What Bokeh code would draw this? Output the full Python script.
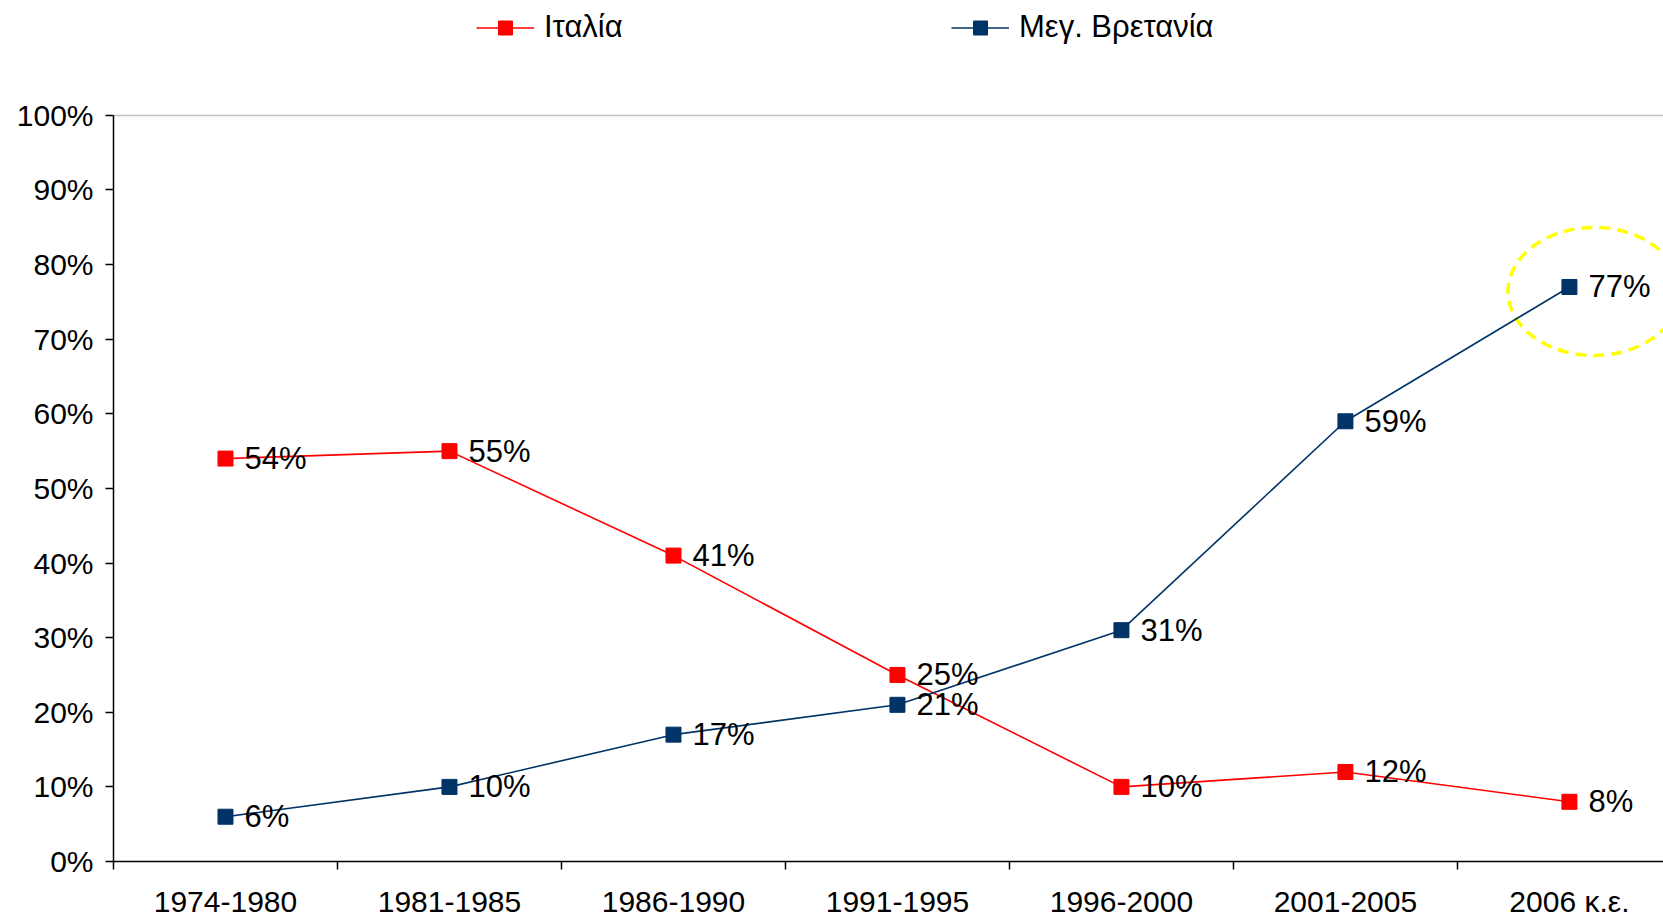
from bokeh.plotting import figure
from bokeh.models import Range1d, FixedTicker, PrintfTickFormatter, Legend, LegendItem, ColumnDataSource
from bokeh.embed import file_html
from bokeh.resources import INLINE

categories = ["1974-1980", "1981-1985", "1986-1990", "1991-1995", "1996-2000", "2001-2005", "2006 κ.ε."]
italy = [54, 55, 41, 25, 10, 12, 8]
uk = [6, 10, 17, 21, 31, 59, 77]
series_names = ["Ιταλία", "Μεγ. Βρετανία"]
y_ticks = [0, 10, 20, 30, 40, 50, 60, 70, 80, 90, 100]

FONT = "Liberation Sans"
RED = "#FF0000"
BLUE = "#003366"

xs = [i + 0.5 for i in range(len(categories))]

# frame spans the full height above the x axis; the axis line is bounded to 0..100
FRAME_H = 862
AXIS_H = 747
y_top = 100 * FRAME_H / AXIS_H

p = figure(width=1663, height=920, output_backend="svg", toolbar_location=None,
           x_range=Range1d(0, 6.92), y_range=Range1d(0, y_top),
           min_border_left=113, min_border_right=0, min_border_top=0, min_border_bottom=58)
p.outline_line_color = None
p.background_fill_color = "white"

src_it = ColumnDataSource(dict(x=xs, y=italy, t=[f"{v}%" for v in italy]))
src_uk = ColumnDataSource(dict(x=xs, y=uk, t=[f"{v}%" for v in uk]))

# highlight ellipse around last UK point
ell_src = ColumnDataSource(dict(x=[xs[-1] + 0.11], y=[uk[-1] - 0.6]))
p.ellipse(x="x", y="y", width=172, height=128, width_units="screen", height_units="screen",
          source=ell_src, fill_color=None, line_color="#FFFF00", line_width=3.5, line_dash="11 7")

l_it = p.line("x", "y", source=src_it, line_color=RED, line_width=1.6)
m_it = p.scatter("x", "y", source=src_it, marker="square", size=15, fill_color=RED, line_color=RED)
l_uk = p.line("x", "y", source=src_uk, line_color=BLUE, line_width=1.6)
m_uk = p.scatter("x", "y", source=src_uk, marker="square", size=15, fill_color=BLUE, line_color=BLUE)

for s in (src_it, src_uk):
    p.text("x", "y", text="t", source=s, x_offset=19, text_align="left", text_baseline="middle",
           text_font_size="31px", text_color="black", text_font={"value": FONT})

# axes
p.xaxis.ticker = FixedTicker(ticks=xs, minor_ticks=list(range(len(categories) + 1)))
p.xaxis.major_label_overrides = {x: c for x, c in zip(xs, categories)}
p.xaxis.major_tick_out = 0
p.xaxis.major_tick_in = 0
p.xaxis.minor_tick_out = 8
p.xaxis.minor_tick_in = 0
p.xaxis.minor_tick_line_color = "black"
p.xaxis.minor_tick_line_width = 1.5
p.xaxis.major_label_standoff = 15

p.yaxis.ticker = FixedTicker(ticks=y_ticks)
p.yaxis.formatter = PrintfTickFormatter(format="%d%%")
p.yaxis.bounds = (0, 100)
p.yaxis.major_tick_out = 8
p.yaxis.major_tick_in = 0
p.yaxis.minor_tick_line_color = None
p.yaxis.major_label_standoff = 12

for ax in (p.xaxis, p.yaxis):
    ax.axis_line_color = "black"
    ax.axis_line_width = 1.5
    ax.major_tick_line_color = "black"
    ax.major_tick_line_width = 1.5
    ax.major_label_text_font = FONT
    ax.major_label_text_font_size = "30px"
    ax.major_label_text_color = "black"

p.xgrid.grid_line_color = None
p.ygrid.ticker = FixedTicker(ticks=[100])
p.ygrid.grid_line_color = "#C0C0C0"
p.ygrid.grid_line_width = 1.5

legend = Legend(items=[LegendItem(label=series_names[0], renderers=[l_it, m_it]),
                       LegendItem(label=series_names[1], renderers=[l_uk, m_uk])],
                orientation="horizontal", location=(363, 816),
                glyph_width=58, glyph_height=35, label_standoff=10, label_width=407,
                spacing=0, padding=0, margin=0, border_line_color=None,
                background_fill_color=None, label_text_font=FONT, label_text_font_size="31px",
                label_text_color="black", label_height=35)
p.add_layout(legend, "center")

open("out.html", "w").write(file_html(p, INLINE))
